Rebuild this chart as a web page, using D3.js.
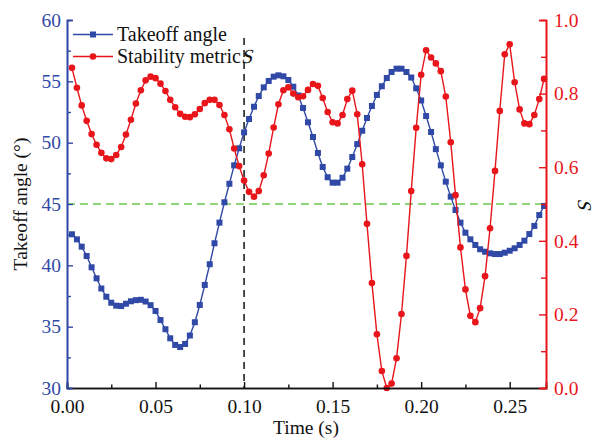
<!DOCTYPE html>
<html>
<head>
<meta charset="utf-8">
<script src="https://cdn.jsdelivr.net/npm/d3@7"></script>
<style>
  body { margin: 0; background: #fff; }
  svg { font-family: "Liberation Serif", "Times New Roman", serif; }
</style>
</head>
<body>
<div id="chart"></div>
<script>
// Data (sampled at 360 fps)
const time = [
  0.0028, 0.0056, 0.0083, 0.0111, 0.0139, 0.0167, 0.0194, 0.0222, 0.0250, 0.0278,
  0.0306, 0.0333, 0.0361, 0.0389, 0.0417, 0.0444, 0.0472, 0.0500, 0.0528, 0.0556,
  0.0583, 0.0611, 0.0639, 0.0667, 0.0694, 0.0722, 0.0750, 0.0778, 0.0806, 0.0833,
  0.0861, 0.0889, 0.0917, 0.0944, 0.0972, 0.1000, 0.1028, 0.1056, 0.1083, 0.1111,
  0.1139, 0.1167, 0.1194, 0.1222, 0.1250, 0.1278, 0.1306, 0.1333, 0.1361, 0.1389,
  0.1417, 0.1444, 0.1472, 0.1500, 0.1528, 0.1556, 0.1583, 0.1611, 0.1639, 0.1667,
  0.1694, 0.1722, 0.1750, 0.1778, 0.1806, 0.1833, 0.1861, 0.1889, 0.1917, 0.1944,
  0.1972, 0.2000, 0.2028, 0.2056, 0.2083, 0.2111, 0.2139, 0.2167, 0.2194, 0.2222,
  0.2250, 0.2278, 0.2306, 0.2333, 0.2361, 0.2389, 0.2417, 0.2444, 0.2472, 0.2500,
  0.2528, 0.2556, 0.2583, 0.2611, 0.2639, 0.2667, 0.2694
];

const takeoffAngle = [
  42.53, 42.12, 41.52, 40.76, 39.84, 38.94, 38.11, 37.44, 36.95, 36.71,
  36.68, 36.87, 37.07, 37.16, 37.19, 37.05, 36.75, 36.28, 35.54, 34.79,
  34.05, 33.51, 33.34, 33.59, 34.28, 35.36, 36.77, 38.40, 40.09, 41.80,
  43.48, 45.14, 46.65, 48.15, 49.54, 50.84, 51.93, 52.93, 53.80, 54.51,
  55.03, 55.38, 55.49, 55.41, 55.11, 54.56, 53.85, 52.83, 51.66, 50.46,
  49.16, 48.02, 47.18, 46.74, 46.74, 47.14, 47.88, 48.83, 49.88, 50.97,
  52.01, 52.99, 53.89, 54.60, 55.27, 55.76, 56.03, 56.03, 55.76, 55.31,
  54.43, 53.44, 52.17, 50.87, 49.47, 48.15, 46.82, 45.60, 44.51, 43.48,
  42.66, 42.12, 41.66, 41.31, 41.11, 40.98, 40.92, 40.92, 41.03, 41.19,
  41.39, 41.66, 42.01, 42.55, 43.21, 44.10, 44.84
];

const stability = [
  0.870, 0.816, 0.768, 0.726, 0.690, 0.661, 0.639, 0.624, 0.622, 0.633,
  0.655, 0.689, 0.729, 0.773, 0.809, 0.836, 0.846, 0.842, 0.827, 0.807,
  0.783, 0.763, 0.745, 0.737, 0.736, 0.744, 0.758, 0.774, 0.783, 0.783,
  0.769, 0.742, 0.703, 0.651, 0.603, 0.564, 0.533, 0.520, 0.535, 0.578,
  0.637, 0.708, 0.771, 0.809, 0.817, 0.800, 0.790, 0.793, 0.810, 0.826,
  0.821, 0.788, 0.750, 0.722, 0.719, 0.742, 0.785, 0.808, 0.744, 0.608,
  0.446, 0.285, 0.146, 0.046, 0.000, 0.012, 0.081, 0.201, 0.359, 0.535,
  0.707, 0.851, 0.918, 0.898, 0.882, 0.861, 0.792, 0.668, 0.524, 0.382,
  0.268, 0.196, 0.179, 0.217, 0.304, 0.434, 0.590, 0.753, 0.907, 0.934,
  0.831, 0.757, 0.719, 0.717, 0.742, 0.785, 0.840
];

const xTicks = [0, 0.05, 0.1, 0.15, 0.2, 0.25];
const xMinorTicks = [0.025, 0.075, 0.125, 0.175, 0.225];
const yLeftTicks = [30, 35, 40, 45, 50, 55, 60];
const yLeftMinorTicks = [32.5, 37.5, 42.5, 47.5, 52.5, 57.5];
const yRightTicks = [0, 0.2, 0.4, 0.6, 0.8, 1.0];
const yRightMinorTicks = [0.1, 0.3, 0.5, 0.7, 0.9];
const thresholdAngle = 45;
const markerTime = 0.1;

// Setup
const width = 597;
const height = 441;
const margin = { top: 20, right: 51, bottom: 53, left: 67 };

const blue = "#3049a6";
const red = "#e8151b";

const svg = d3.select("#chart").append("svg")
  .attr("width", width)
  .attr("height", height);

const xScale = d3.scaleLinear()
  .domain([0, 0.2705])
  .range([margin.left, width - margin.right]);

const yLeft = d3.scaleLinear()
  .domain([30, 60])
  .range([height - margin.bottom, margin.top]);

const yRight = d3.scaleLinear()
  .domain([0, 1])
  .range([height - margin.bottom, margin.top]);

// Reference lines
svg.append("line")
  .attr("x1", xScale.range()[0])
  .attr("x2", xScale.range()[1])
  .attr("y1", yLeft(thresholdAngle))
  .attr("y2", yLeft(thresholdAngle))
  .attr("stroke", "#6cc84c")
  .attr("stroke-width", 1.5)
  .attr("stroke-dasharray", "8,5");

svg.append("line")
  .attr("x1", xScale(markerTime))
  .attr("x2", xScale(markerTime))
  .attr("y1", 38)
  .attr("y2", yLeft(30))
  .attr("stroke", "#222")
  .attr("stroke-width", 1.6)
  .attr("stroke-dasharray", "7,5");

// Series
const angleData = time.map((t, i) => [t, takeoffAngle[i]]);
const stabData = time.map((t, i) => [t, stability[i]]);

svg.append("path")
  .datum(angleData)
  .attr("fill", "none")
  .attr("stroke", blue)
  .attr("stroke-width", 1.4)
  .attr("d", d3.line().x((d) => xScale(d[0])).y((d) => yLeft(d[1])));

svg.selectAll(".sq")
  .data(angleData)
  .enter()
  .append("rect")
  .attr("class", "sq")
  .attr("x", (d) => xScale(d[0]) - 3)
  .attr("y", (d) => yLeft(d[1]) - 3)
  .attr("width", 6)
  .attr("height", 6)
  .attr("fill", blue);

svg.append("path")
  .datum(stabData)
  .attr("fill", "none")
  .attr("stroke", red)
  .attr("stroke-width", 1.4)
  .attr("d", d3.line().x((d) => xScale(d[0])).y((d) => yRight(d[1])));

svg.selectAll(".dot")
  .data(stabData)
  .enter()
  .append("circle")
  .attr("class", "dot")
  .attr("cx", (d) => xScale(d[0]))
  .attr("cy", (d) => yRight(d[1]))
  .attr("r", 3.3)
  .attr("fill", red);

// Axes
function styleAxis(g, color) {
  g.select(".domain").attr("stroke", color).attr("stroke-width", 1.6);
  g.selectAll(".tick line").attr("stroke", color).attr("stroke-width", 1.4);
  g.selectAll(".tick text")
    .attr("fill", color)
    .style("font-size", "19.5px")
    .style("font-family", '"Liberation Serif", serif');
}

// X Axis
svg.append("g")
  .attr("transform", `translate(0, ${yLeft(30)})`)
  .call(d3.axisBottom(xScale).tickValues(xMinorTicks).tickSize(-3.5).tickFormat(""))
  .call((g) => styleAxis(g, "#111"));

svg.append("g")
  .attr("transform", `translate(0, ${yLeft(30)})`)
  .call(d3.axisBottom(xScale).tickValues(xTicks).tickSize(-6).tickPadding(11).tickFormat(d3.format(".2f")))
  .call((g) => styleAxis(g, "#111"));

// Left Y Axis
svg.append("g")
  .attr("transform", `translate(${margin.left}, 0)`)
  .call(d3.axisLeft(yLeft).tickValues(yLeftMinorTicks).tickSize(-4).tickFormat(""))
  .call((g) => styleAxis(g, blue));

svg.append("g")
  .attr("transform", `translate(${margin.left}, 0)`)
  .call(d3.axisLeft(yLeft).tickValues(yLeftTicks).tickSize(-6).tickPadding(6).tickFormat(d3.format("d")))
  .call((g) => styleAxis(g, blue));

// Right Y Axis
svg.append("g")
  .attr("transform", `translate(${width - margin.right}, 0)`)
  .call(d3.axisRight(yRight).tickValues(yRightMinorTicks).tickSize(-5).tickFormat(""))
  .call((g) => styleAxis(g, red));

svg.append("g")
  .attr("transform", `translate(${width - margin.right}, 0)`)
  .call(d3.axisRight(yRight).tickValues(yRightTicks).tickSize(-7).tickPadding(8).tickFormat(d3.format(".1f")))
  .call((g) => styleAxis(g, red));

// Axis titles
svg.append("text")
  .attr("x", 306)
  .attr("y", 434)
  .attr("text-anchor", "middle")
  .style("font-size", "19.5px")
  .attr("fill", "#111")
  .text("Time (s)");

svg.append("text")
  .attr("transform", `translate(27, ${yLeft(45)}) rotate(-90)`)
  .attr("text-anchor", "middle")
  .style("font-size", "19.5px")
  .attr("fill", "#111")
  .text("Takeoff angle (°)");

// italic S drawn with a slant so it reads as italic whatever the font
svg.append("text")
  .attr("transform", `translate(578, ${yRight(0.5)}) rotate(90) skewX(-14)`)
  .attr("text-anchor", "middle")
  .style("font-size", "19.5px")
  .attr("fill", "#111")
  .text("S");

// Legend
const legend = svg.append("g").attr("transform", "translate(73, 0)");

legend.append("line")
  .attr("x1", 0).attr("x2", 40).attr("y1", 34.5).attr("y2", 34.5)
  .attr("stroke", blue).attr("stroke-width", 1.4);
legend.append("rect")
  .attr("x", 17).attr("y", 31.5).attr("width", 6).attr("height", 6)
  .attr("fill", blue);
legend.append("text")
  .attr("x", 44).attr("y", 41)
  .style("font-size", "20px")
  .attr("fill", "#111")
  .text("Takeoff angle");

legend.append("line")
  .attr("x1", 0).attr("x2", 40).attr("y1", 56.5).attr("y2", 56.5)
  .attr("stroke", red).attr("stroke-width", 1.4);
legend.append("circle")
  .attr("cx", 20).attr("cy", 56.5).attr("r", 3.3)
  .attr("fill", red);
const t2 = legend.append("text")
  .attr("x", 44).attr("y", 63)
  .style("font-size", "20px")
  .attr("fill", "#111")
  .text("Stability metric ");
const sx = 44 + t2.node().getComputedTextLength();
legend.append("text")
  .attr("transform", `translate(${sx}, 63) skewX(-14)`)
  .style("font-size", "20px")
  .attr("fill", "#111")
  .text("S");
</script>
</body>
</html>
